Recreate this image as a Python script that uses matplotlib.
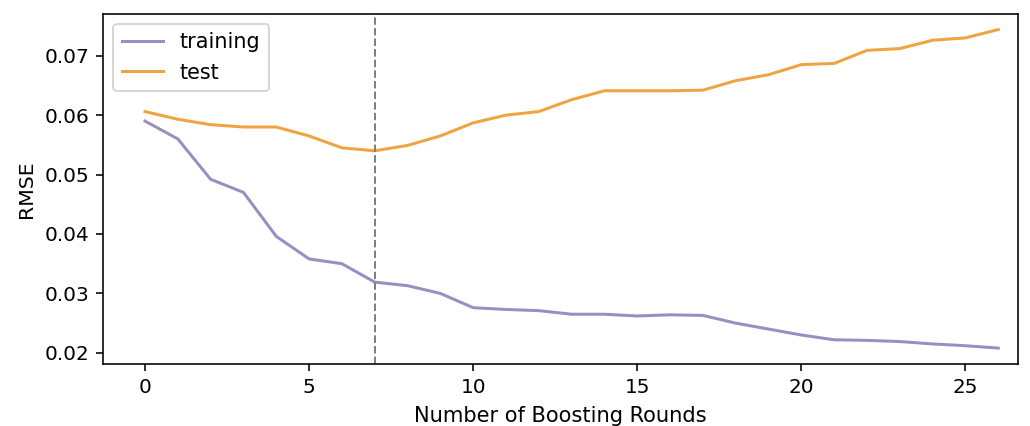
import matplotlib
matplotlib.use("Agg")
import matplotlib.pyplot as plt
import numpy as np

rounds = list(range(27))
train_rmse = [0.0590, 0.0560, 0.0492, 0.0470, 0.0396, 0.0358, 0.0350, 0.0319, 0.0313,
              0.0300, 0.0276, 0.0273, 0.0271, 0.0265, 0.0265, 0.0262, 0.0264, 0.0263,
              0.0250, 0.0240, 0.0230, 0.0222, 0.0221, 0.0219, 0.0215, 0.0212, 0.0208]
test_rmse = [0.0606, 0.0593, 0.0584, 0.0580, 0.0580, 0.0565, 0.0545, 0.0540, 0.0549,
             0.0565, 0.0587, 0.0600, 0.0606, 0.0626, 0.0641, 0.0641, 0.0641, 0.0642,
             0.0658, 0.0668, 0.0685, 0.0687, 0.0709, 0.0712, 0.0726, 0.0730, 0.0744]
best_round = 7

dpi = 144
fig = plt.figure(figsize=(1030 / dpi, 426 / dpi), dpi=dpi)
ax = fig.add_axes([0.1, 0.1455, 0.8883, 0.8225])

ax.plot(rounds, train_rmse, color="#998ec3", label="training")
ax.plot(rounds, test_rmse, color="#f1a340", label="test")
ax.axvline(best_round, color="gray", linestyle="--", linewidth=1)

ax.set_xlim(-1.28, 26.6)
ax.set_xticks([0, 5, 10, 15, 20, 25])
ax.set_yticks([0.02, 0.03, 0.04, 0.05, 0.06, 0.07])
ax.set_xlabel("Number of Boosting Rounds", fontsize=10.5, labelpad=4.5)
ax.set_ylabel("RMSE", fontsize=10.2)
ax.legend(loc="upper left", fontsize=10.4)

fig.savefig("out.png", dpi=dpi)
